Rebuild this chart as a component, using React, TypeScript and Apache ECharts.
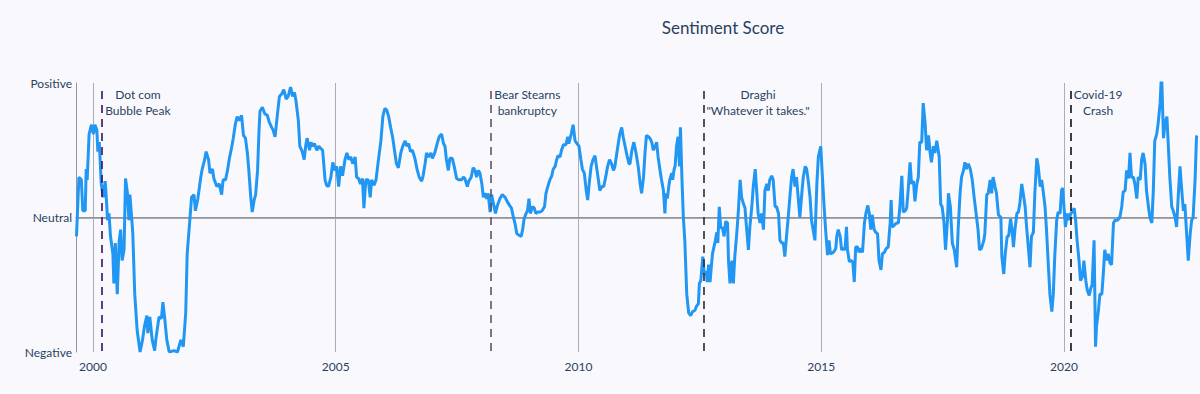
import React, { useEffect, useRef } from "react";
import * as echarts from "echarts";

const BG = "#f9f9fd";
const TEXT = "#2a3f5f";
const FONT = "Lato";
const LINE = "#2196f3";

const xMin = 1999.65;
const xMax = 2022.74;
const yearTicks = [2000, 2005, 2010, 2015, 2020];
const sentimentTicks = ["Negative", "Neutral", "Positive"];

const eventDates = [2000.19, 2008.2, 2012.57, 2020.14];
const eventLabels = ["Dot com\nBubble Peak", "Bear Stearns\nbankruptcy", 'Draghi\n"Whatever it takes."', "Covid-19\nCrash"];
const eventColors = ["#3a1060", "#5e5468", "#2b2b2b", "#111111"];

const score1999to2003: [number, number][] = [
  [1999.66, -0.14], [1999.71, 0.3], [1999.76, 0.28], [1999.79, 0.05], [1999.84, 0.05], [1999.86, 0.36], [1999.88, 0.28],
  [1999.92, 0.62], [1999.97, 0.69], [2000.01, 0.62], [2000.04, 0.69], [2000.08, 0.65], [2000.1, 0.49], [2000.13, 0.56],
  [2000.17, 0.25], [2000.21, 0.15], [2000.25, 0.27], [2000.27, 0.17], [2000.3, -0.02], [2000.33, 0.03], [2000.36, -0.14],
  [2000.41, -0.27], [2000.43, -0.49], [2000.46, -0.19], [2000.5, -0.57], [2000.54, -0.17], [2000.57, -0.09], [2000.6, -0.32],
  [2000.64, -0.24], [2000.67, 0.29], [2000.71, 0.18], [2000.74, -0.02], [2000.76, 0.17], [2000.79, 0.03], [2000.82, -0.12],
  [2000.86, -0.57], [2000.91, -0.84], [2000.97, -1.0], [2001.02, -0.91], [2001.06, -0.81], [2001.11, -0.73], [2001.13, -0.86],
  [2001.17, -0.74], [2001.22, -0.91], [2001.27, -0.99], [2001.3, -0.89], [2001.36, -0.74], [2001.41, -0.75], [2001.44, -0.63],
  [2001.48, -0.76], [2001.52, -0.91], [2001.57, -1.0], [2001.67, -0.99], [2001.74, -1.0], [2001.81, -0.91], [2001.86, -0.96],
  [2001.91, -0.71], [2001.94, -0.27], [2001.99, -0.04], [2002.03, 0.15], [2002.08, 0.17], [2002.11, 0.05], [2002.16, 0.14],
  [2002.22, 0.3], [2002.25, 0.36], [2002.3, 0.43], [2002.33, 0.49], [2002.38, 0.43], [2002.41, 0.33], [2002.46, 0.36],
  [2002.49, 0.29], [2002.55, 0.23], [2002.6, 0.25], [2002.65, 0.17], [2002.68, 0.28], [2002.73, 0.28], [2002.77, 0.35],
  [2002.81, 0.44], [2002.85, 0.51], [2002.89, 0.59], [2002.93, 0.69], [2002.97, 0.75], [2003.01, 0.72], [2003.06, 0.76],
  [2003.1, 0.61], [2003.14, 0.59], [2003.18, 0.48], [2003.21, 0.35], [2003.25, 0.15], [2003.28, 0.04], [2003.32, 0.13],
  [2003.35, 0.17], [2003.39, 0.35], [2003.42, 0.65],
];

const score2003to2007: [number, number][] = [
  [2003.44, 0.79], [2003.49, 0.82], [2003.54, 0.77], [2003.59, 0.76], [2003.63, 0.71], [2003.68, 0.67], [2003.71, 0.65],
  [2003.75, 0.6], [2003.8, 0.77], [2003.84, 0.9], [2003.89, 0.92], [2003.93, 0.95], [2003.98, 0.88], [2004.02, 0.9],
  [2004.07, 0.97], [2004.11, 0.9], [2004.15, 0.93], [2004.18, 0.87], [2004.23, 0.72], [2004.26, 0.53], [2004.31, 0.49],
  [2004.35, 0.43], [2004.38, 0.53], [2004.41, 0.59], [2004.46, 0.5], [2004.49, 0.56], [2004.52, 0.53], [2004.56, 0.55],
  [2004.61, 0.5], [2004.65, 0.53], [2004.7, 0.51], [2004.73, 0.5], [2004.78, 0.28], [2004.81, 0.24], [2004.85, 0.23],
  [2004.9, 0.3], [2004.94, 0.41], [2004.98, 0.35], [2005.02, 0.38], [2005.06, 0.23], [2005.1, 0.38], [2005.14, 0.31],
  [2005.19, 0.43], [2005.23, 0.48], [2005.27, 0.43], [2005.31, 0.45], [2005.35, 0.4], [2005.4, 0.45], [2005.43, 0.3],
  [2005.47, 0.29], [2005.51, 0.25], [2005.55, 0.29], [2005.58, 0.07], [2005.62, 0.28], [2005.67, 0.28], [2005.71, 0.15],
  [2005.74, 0.28], [2005.79, 0.24], [2005.83, 0.28], [2005.88, 0.43], [2005.93, 0.57], [2005.97, 0.75], [2006.01, 0.81],
  [2006.05, 0.8], [2006.09, 0.75], [2006.13, 0.67], [2006.17, 0.6], [2006.21, 0.5], [2006.25, 0.4], [2006.29, 0.37],
  [2006.34, 0.48], [2006.38, 0.53], [2006.43, 0.57], [2006.46, 0.53], [2006.5, 0.55], [2006.54, 0.49], [2006.58, 0.5],
  [2006.63, 0.44], [2006.68, 0.35], [2006.72, 0.3], [2006.77, 0.27], [2006.8, 0.31], [2006.84, 0.4], [2006.87, 0.48],
  [2006.91, 0.45], [2006.96, 0.48], [2006.99, 0.44], [2007.04, 0.48], [2007.09, 0.55], [2007.13, 0.6], [2007.18, 0.62],
  [2007.22, 0.55],
];

const score2007to2011: [number, number][] = [
  [2007.25, 0.53], [2007.28, 0.43], [2007.32, 0.35], [2007.35, 0.44], [2007.4, 0.44], [2007.44, 0.38], [2007.49, 0.29],
  [2007.54, 0.28], [2007.59, 0.28], [2007.63, 0.3], [2007.66, 0.29], [2007.71, 0.23], [2007.74, 0.27], [2007.79, 0.3],
  [2007.83, 0.37], [2007.87, 0.35], [2007.9, 0.3], [2007.94, 0.35], [2007.97, 0.33], [2008.01, 0.25], [2008.04, 0.15],
  [2008.07, 0.18], [2008.11, 0.14], [2008.14, 0.18], [2008.18, 0.04], [2008.21, 0.17], [2008.25, 0.1], [2008.29, 0.03],
  [2008.33, 0.09], [2008.38, 0.14], [2008.43, 0.17], [2008.49, 0.15], [2008.53, 0.12], [2008.58, 0.09], [2008.62, 0.07],
  [2008.66, 0.0], [2008.69, -0.04], [2008.73, -0.12], [2008.77, -0.13], [2008.82, -0.14], [2008.85, -0.09], [2008.88, -0.01],
  [2008.92, 0.03], [2008.95, 0.05], [2008.98, 0.14], [2009.01, 0.03], [2009.05, 0.08], [2009.09, 0.07], [2009.12, 0.03],
  [2009.16, 0.04], [2009.21, 0.04], [2009.25, 0.05], [2009.3, 0.08], [2009.33, 0.18], [2009.36, 0.22], [2009.41, 0.28],
  [2009.45, 0.31], [2009.48, 0.36], [2009.52, 0.38], [2009.55, 0.43], [2009.58, 0.46], [2009.62, 0.45], [2009.65, 0.5],
  [2009.69, 0.54], [2009.74, 0.54], [2009.78, 0.6], [2009.8, 0.55], [2009.85, 0.62], [2009.89, 0.69], [2009.93, 0.57],
  [2009.97, 0.55], [2010.01, 0.53], [2010.05, 0.43], [2010.08, 0.36], [2010.12, 0.33], [2010.16, 0.2], [2010.19, 0.13],
  [2010.22, 0.25], [2010.26, 0.38], [2010.3, 0.43], [2010.34, 0.46], [2010.37, 0.38], [2010.41, 0.28], [2010.44, 0.2],
  [2010.48, 0.23], [2010.52, 0.23], [2010.56, 0.3], [2010.6, 0.38], [2010.64, 0.43], [2010.68, 0.4], [2010.72, 0.35],
  [2010.75, 0.38], [2010.79, 0.48], [2010.82, 0.55], [2010.85, 0.62], [2010.89, 0.67], [2010.92, 0.6], [2010.96, 0.53],
  [2011.0, 0.46], [2011.04, 0.4],
];

const score2011to2014: [number, number][] = [
  [2011.06, 0.4], [2011.1, 0.5], [2011.14, 0.56], [2011.18, 0.49], [2011.23, 0.38], [2011.27, 0.25], [2011.3, 0.18],
  [2011.34, 0.3], [2011.37, 0.48], [2011.4, 0.61], [2011.44, 0.6], [2011.47, 0.59], [2011.51, 0.56], [2011.54, 0.5],
  [2011.58, 0.53], [2011.61, 0.56], [2011.64, 0.45], [2011.68, 0.35], [2011.71, 0.28], [2011.75, 0.2], [2011.78, 0.03],
  [2011.8, 0.18], [2011.83, 0.14], [2011.86, 0.23], [2011.88, 0.28], [2011.92, 0.33], [2011.94, 0.28], [2011.97, 0.36],
  [2011.99, 0.38], [2012.02, 0.53], [2012.05, 0.6], [2012.08, 0.38], [2012.1, 0.67], [2012.13, 0.3], [2012.16, 0.0],
  [2012.19, -0.17], [2012.23, -0.57], [2012.27, -0.71], [2012.31, -0.73], [2012.35, -0.7], [2012.4, -0.69], [2012.43, -0.66],
  [2012.47, -0.64], [2012.49, -0.49], [2012.52, -0.47], [2012.56, -0.29], [2012.59, -0.42], [2012.63, -0.4], [2012.65, -0.48],
  [2012.68, -0.35], [2012.71, -0.48], [2012.74, -0.35], [2012.76, -0.27], [2012.79, -0.22], [2012.82, -0.17], [2012.85, -0.11],
  [2012.87, -0.19], [2012.9, 0.08], [2012.93, -0.08], [2012.96, -0.07], [2013.0, -0.14], [2013.03, -0.03], [2013.07, -0.04],
  [2013.09, -0.32], [2013.12, -0.49], [2013.16, -0.32], [2013.19, -0.49], [2013.22, -0.29], [2013.26, -0.12], [2013.29, 0.03],
  [2013.33, 0.28], [2013.36, 0.15], [2013.4, 0.1], [2013.43, 0.07], [2013.46, -0.07], [2013.5, -0.24], [2013.53, -0.07],
  [2013.57, 0.08], [2013.6, 0.23], [2013.64, 0.36], [2013.67, 0.2], [2013.7, 0.03], [2013.74, -0.04], [2013.77, 0.03],
  [2013.81, -0.09], [2013.84, 0.2], [2013.88, 0.25], [2013.91, 0.2], [2013.94, 0.28], [2013.98, 0.31], [2014.01, 0.28],
  [2014.05, 0.08], [2014.08, 0.08], [2014.12, 0.03], [2014.15, -0.17], [2014.19, -0.19], [2014.22, -0.19], [2014.25, -0.29],
  [2014.29, -0.12], [2014.32, 0.0], [2014.36, 0.18], [2014.39, 0.3], [2014.42, 0.36], [2014.46, 0.23], [2014.49, 0.3],
  [2014.53, 0.13], [2014.56, 0.0], [2014.6, 0.18], [2014.63, 0.3], [2014.67, 0.38], [2014.7, 0.36], [2014.73, 0.28],
  [2014.77, 0.15], [2014.8, -0.02],
];

const score2014to2018: [number, number][] = [
  [2014.87, -0.17], [2014.91, 0.25], [2014.94, 0.45], [2014.99, 0.53], [2015.02, 0.33], [2015.06, 0.08], [2015.09, -0.09],
  [2015.13, -0.28], [2015.16, -0.17], [2015.19, -0.27], [2015.25, -0.26], [2015.3, -0.23], [2015.32, -0.14], [2015.35, -0.09],
  [2015.39, -0.14], [2015.42, -0.24], [2015.46, -0.23], [2015.49, -0.24], [2015.52, -0.07], [2015.54, -0.24], [2015.58, -0.33],
  [2015.61, -0.32], [2015.65, -0.33], [2015.68, -0.48], [2015.71, -0.22], [2015.75, -0.22], [2015.78, -0.26], [2015.82, -0.23],
  [2015.85, -0.26], [2015.89, -0.04], [2015.92, 0.03], [2015.96, 0.09], [2015.99, 0.03], [2016.02, -0.09], [2016.05, 0.02],
  [2016.09, -0.09], [2016.12, -0.11], [2016.16, -0.12], [2016.19, -0.32], [2016.23, -0.39], [2016.26, -0.27], [2016.3, -0.26],
  [2016.34, -0.23], [2016.38, -0.22], [2016.42, -0.04], [2016.44, 0.13], [2016.46, -0.07], [2016.5, -0.06], [2016.55, -0.04],
  [2016.59, -0.04], [2016.62, 0.08], [2016.66, 0.31], [2016.69, 0.04], [2016.73, 0.05], [2016.76, 0.07], [2016.79, 0.2],
  [2016.83, 0.41], [2016.86, 0.25], [2016.9, 0.27], [2016.93, 0.12], [2016.97, 0.25], [2017.0, 0.3], [2017.03, 0.56],
  [2017.07, 0.56], [2017.1, 0.85], [2017.14, 0.7], [2017.17, 0.5], [2017.21, 0.61], [2017.24, 0.49], [2017.27, 0.41],
  [2017.31, 0.53], [2017.34, 0.48], [2017.38, 0.57], [2017.43, 0.45], [2017.46, 0.1], [2017.49, 0.08], [2017.53, -0.04],
  [2017.56, -0.24], [2017.6, -0.02], [2017.62, 0.18], [2017.66, 0.08], [2017.7, -0.19], [2017.74, -0.24], [2017.79, -0.37],
  [2017.82, -0.09], [2017.86, 0.18], [2017.89, 0.3], [2017.93, 0.35], [2017.96, 0.41], [2017.99, 0.36], [2018.03, 0.4],
  [2018.07, 0.36], [2018.11, 0.28], [2018.15, 0.15], [2018.19, 0.03], [2018.23, -0.09], [2018.26, -0.24], [2018.3, -0.23],
  [2018.35, -0.17], [2018.37, -0.12], [2018.41, 0.17], [2018.44, 0.18], [2018.48, 0.28], [2018.51, 0.18], [2018.54, 0.3],
  [2018.58, 0.23], [2018.61, 0.18], [2018.65, 0.02],
];

const score2018to2022: [number, number][] = [
  [2018.7, 0.0], [2018.72, -0.29], [2018.76, -0.42], [2018.79, -0.27], [2018.83, -0.14], [2018.86, -0.14], [2018.9, -0.01],
  [2018.93, -0.09], [2018.96, -0.22], [2018.99, -0.09], [2019.03, 0.03], [2019.06, 0.04], [2019.09, 0.1], [2019.13, 0.25],
  [2019.16, 0.18], [2019.2, 0.08], [2019.23, -0.07], [2019.27, -0.24], [2019.3, -0.37], [2019.33, -0.14], [2019.37, -0.11],
  [2019.4, 0.18], [2019.44, 0.44], [2019.47, 0.38], [2019.51, 0.23], [2019.54, 0.28], [2019.57, 0.2], [2019.61, 0.08],
  [2019.64, -0.09], [2019.68, -0.37], [2019.71, -0.57], [2019.75, -0.7], [2019.78, -0.57], [2019.81, -0.29], [2019.85, -0.02],
  [2019.88, 0.04], [2019.92, 0.03], [2019.95, 0.2], [2019.97, 0.22], [2020.0, 0.08], [2020.03, -0.07], [2020.07, 0.03],
  [2020.1, -0.02], [2020.14, 0.03], [2020.17, 0.04], [2020.21, 0.07], [2020.24, -0.02], [2020.27, -0.17], [2020.31, -0.32],
  [2020.34, -0.47], [2020.38, -0.44], [2020.41, -0.32], [2020.45, -0.47], [2020.48, -0.54], [2020.52, -0.58], [2020.55, -0.53],
  [2020.58, -0.5], [2020.62, -0.17], [2020.65, -0.96], [2020.67, -0.81], [2020.71, -0.69], [2020.74, -0.57], [2020.78, -0.57],
  [2020.81, -0.42], [2020.84, -0.24], [2020.88, -0.32], [2020.91, -0.27], [2020.95, -0.34], [2020.98, -0.35], [2021.02, -0.04],
  [2021.05, -0.02], [2021.1, -0.02], [2021.15, 0.0], [2021.19, 0.08], [2021.22, 0.19], [2021.26, 0.2], [2021.29, 0.35],
  [2021.33, 0.29], [2021.36, 0.48], [2021.39, 0.3], [2021.43, 0.3], [2021.46, 0.25], [2021.5, 0.14], [2021.53, 0.3],
  [2021.57, 0.28], [2021.6, 0.43], [2021.63, 0.48], [2021.67, 0.4], [2021.7, 0.2], [2021.74, 0.08], [2021.77, 0.0],
  [2021.81, -0.04], [2021.84, 0.2], [2021.87, 0.57], [2021.91, 0.62], [2021.94, 0.7], [2021.98, 0.85], [2022.01, 1.08],
  [2022.05, 0.59], [2022.08, 0.7], [2022.12, 0.75], [2022.15, 0.53], [2022.18, 0.3], [2022.22, 0.08], [2022.25, 0.05],
  [2022.29, 0.0], [2022.32, -0.07], [2022.36, 0.2], [2022.39, 0.38], [2022.42, 0.23], [2022.46, 0.05], [2022.49, 0.1],
  [2022.53, -0.14], [2022.56, -0.32], [2022.6, -0.12], [2022.63, -0.02], [2022.66, 0.0], [2022.7, 0.28], [2022.73, 0.6],
  [2022.74, 0.61],
];

export default function App() {
  const ref = useRef<HTMLDivElement>(null);

  useEffect(() => {
    document.body.style.margin = "0";
    document.body.style.background = BG;
    const chart = echarts.init(ref.current as HTMLDivElement, null, { renderer: "svg" });
    const data = [
      ...score1999to2003,
      ...score2003to2007,
      ...score2007to2011,
      ...score2011to2014,
      ...score2014to2018,
      ...score2018to2022,
    ];

    chart.setOption({
      animation: false,
      backgroundColor: BG,
      textStyle: { fontFamily: FONT },
      grid: { left: 76, right: 3, top: 83, bottom: 42, containLabel: false },
      xAxis: {
        type: "value",
        min: xMin,
        max: xMax,
        axisLine: { show: true, lineStyle: { color: "#9096a0", width: 1 } },
        axisTick: { show: false, customValues: yearTicks },
        axisLabel: {
          customValues: yearTicks,
          color: TEXT,
          fontSize: 12,
          fontFamily: FONT,
          margin: 8,
          formatter: (v: number) => String(Math.round(v)),
        },
        splitLine: { show: true, lineStyle: { color: "#a9adb8", width: 1 } },
      },
      yAxis: {
        type: "value",
        min: -1,
        max: 1,
        interval: 1,
        axisLine: { show: true, lineStyle: { color: "#9096a0", width: 1 } },
        axisTick: { show: false },
        axisLabel: {
          color: TEXT,
          fontSize: 12,
          fontFamily: FONT,
          margin: 4,
          formatter: (v: number) => sentimentTicks[Math.round(v) + 1],
        },
        splitLine: {
          show: true,
          lineStyle: { color: ["rgba(0,0,0,0)", "#8c8c8c", "rgba(0,0,0,0)"], width: 1.5 },
        },
      },
      series: [
        {
          type: "line",
          data,
          showSymbol: false,
          symbol: "none",
          clip: true,
          lineStyle: { color: LINE, width: 3 },
          z: 3,
          markLine: {
            silent: true,
            symbol: ["none", "none"],
            label: { show: false },
            animation: false,
            data: eventDates.map((d, i) => [
              { coord: [d, 0.94], lineStyle: { color: eventColors[i], width: 1.6, type: [8, 6] } },
              { coord: [d, -1] },
            ]),
          },
        },
      ],
    });

    const canvas = document.createElement("canvas");
    const ctx = canvas.getContext("2d") as CanvasRenderingContext2D;
    ctx.font = `12px ${FONT}`;
    const texts = eventDates.map((d, i) => {
      const p = chart.convertToPixel({ gridIndex: 0 }, [d, 1]) as number[];
      const lines = eventLabels[i].split("\n");
      const w = Math.max(...lines.map((l) => ctx.measureText(l).width));
      return {
        type: "text",
        x: p[0] + 3 + w / 2,
        y: p[1] + 3,
        silent: true,
        style: {
          text: eventLabels[i],
          textAlign: "center",
          textVerticalAlign: "top",
          fill: TEXT,
          fontSize: 12,
          fontFamily: FONT,
          lineHeight: 16,
        },
      };
    });
    texts.push({
      type: "text",
      x: 723,
      y: 27,
      silent: true,
      style: {
        text: "Sentiment Score",
        textAlign: "center",
        textVerticalAlign: "middle",
        fill: TEXT,
        fontSize: 17,
        fontFamily: FONT,
        lineHeight: 20,
      },
    } as any);
    chart.setOption({ graphic: texts });

    return () => chart.dispose();
  }, []);

  return <div ref={ref} style={{ width: 1200, height: 394 }} />;
}
